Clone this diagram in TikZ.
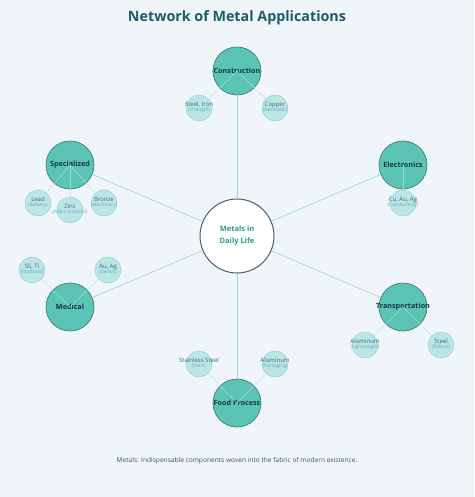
\documentclass[tikz,border=0pt]{standalone}
\usepackage{fontspec}
\setmainfont{Open Sans}
\definecolor{bgcol}{RGB}{239,245,248}
\definecolor{titlecol}{RGB}{30,90,110}
\definecolor{hubfill}{RGB}{92,196,180}
\definecolor{hubline}{RGB}{62,130,125}
\definecolor{hubtext}{RGB}{20,55,80}
\definecolor{leaffill}{RGB}{180,228,228}
\definecolor{leafline}{RGB}{140,205,205}
\definecolor{leaftext}{RGB}{60,105,125}
\definecolor{subtext}{RGB}{95,165,185}
\definecolor{spokecol}{RGB}{165,215,212}
\definecolor{twigcol}{RGB}{180,228,225}
\definecolor{midtext}{RGB}{42,157,143}
\definecolor{midline}{RGB}{70,95,110}
\definecolor{foottext}{RGB}{60,85,100}
\pgfdeclarelayer{front}
\pgfsetlayers{main,front}
\newcommand{\lbl}[2]{\makebox[0pt]{\begin{tabular}{@{}c@{}}#1\\[-1.8pt]{\color{subtext}\fontsize{4.8}{5.5}\selectfont #2}\end{tabular}}}
\newcommand{\hublbl}[1]{\makebox[0pt]{#1}}

\begin{document}
\begin{tikzpicture}[x=1pt,y=-1pt,
  hub/.style={circle,draw=hubline,fill=hubfill,line width=0.7pt,minimum size=48pt,inner sep=0pt,
    text=hubtext,font=\fontsize{7.2}{8}\selectfont\bfseries},
  leaf/.style={circle,draw=leafline,fill=leaffill,fill opacity=0.85,text opacity=1,line width=0.4pt,
    minimum size=26pt,inner sep=0pt,text=leaftext,font=\fontsize{6}{6.5}\selectfont},
  spoke/.style={draw=spokecol,line width=0.7pt},
  twig/.style={draw=twigcol,opacity=0.7,line width=0.6pt}]
\fill[bgcol] (0,0) rectangle (474,497);
\node[text=titlecol,font=\fontsize{14.3}{16}\selectfont\bfseries] (title) at (237,18) {Network of Metal Applications};
% centre and main groups
\node[circle,draw=midline,fill=white,line width=1pt,minimum size=74pt,align=center,
  text=midtext,font=\fontsize{7.5}{12}\selectfont\bfseries] (metals) at (237,236) {Metals in\\Daily Life};
\node[hub] (constr) at (237,71) {\hublbl{Construction}};
\node[hub] (elec) at (403,165) {\hublbl{Electronics}};
\node[hub] (trans) at (403,307) {\hublbl{Transportation}};
\node[hub] (food) at (237,403) {\hublbl{Food Process}};
\node[hub] (med) at (70,307) {\hublbl{Medical}};
\node[hub] (spec) at (70,165) {\hublbl{Specialized}};
\foreach \h in {constr,elec,trans,food,med,spec}
  \draw[spoke] (metals) -- (\h);
% examples
\begin{pgfonlayer}{front}
\node[leaf] (steeliron) at (199,108) {\lbl{Steel, Iron}{(Strength)}};
\node[leaf] (copper) at (275,108) {\lbl{Copper}{(Aesthetic)}};
\node[leaf] (cuauag) at (403,203) {\lbl{Cu, Au, Ag}{(Conductivity)}};
\node[leaf] (alutrans) at (365,345) {\lbl{Aluminum}{(Lightweight)}};
\node[leaf] (steeltrans) at (441,345) {\lbl{Steel}{(Robust)}};
\node[leaf] (stainless) at (199,364) {\lbl{Stainless Steel}{(Inert)}};
\node[leaf] (alufood) at (275,364) {\lbl{Aluminum}{(Packaging)}};
\node[leaf] (ssti) at (32,270) {\lbl{SS, Ti}{(Implants)}};
\node[leaf] (auag) at (108,270) {\lbl{Au, Ag}{(Dental)}};
\node[leaf] (lead) at (38,203) {\lbl{Lead}{(Battery)}};
\node[leaf] (zinc) at (70,210) {\lbl{Zinc}{(Anti-Corrosion)}};
\node[leaf] (bronze) at (104,203) {\lbl{Bronze}{(Machinery)}};
\end{pgfonlayer}
\draw[twig] (constr.center) -- (steeliron.center);
\draw[twig] (constr.center) -- (copper.center);
\draw[twig] (elec.center) -- (cuauag.center);
\draw[twig] (trans.center) -- (alutrans.center);
\draw[twig] (trans.center) -- (steeltrans.center);
\draw[twig] (food.center) -- (stainless.center);
\draw[twig] (food.center) -- (alufood.center);
\draw[twig] (med.center) -- (ssti.center);
\draw[twig] (med.center) -- (auag.center);
\draw[twig] (spec.center) -- (lead.center);
\draw[twig] (spec.center) -- (zinc.center);
\draw[twig] (spec.center) -- (bronze.center);
\node[text=foottext,font=\fontsize{6.6}{8}\selectfont] (foot) at (237,461)
  {Metals: Indispensable components woven into the fabric of modern existence.};
\end{tikzpicture}
\end{document}
